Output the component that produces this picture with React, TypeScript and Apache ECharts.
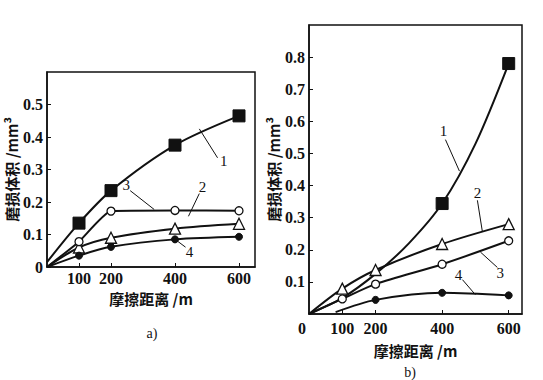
import React, { useEffect, useRef } from "react";
import * as echarts from "echarts";

// ---- Chart a) ----
const distA = [0, 100, 200, 400, 600];
const volA1 = [0.015, 0.135, 0.235, 0.375, 0.465];
const volA2 = [0, 0.06, 0.09, 0.118, 0.133];
const volA3 = [0, 0.078, 0.172, 0.174, 0.173];
const volA4 = [0, 0.035, 0.062, 0.085, 0.093];
const markA = [false, true, true, true, true];

// ---- Chart b) ----
const distB1 = [0, 100, 200, 300, 400, 500, 600];
const volB1 = [0, 0.05, 0.125, 0.22, 0.344, 0.53, 0.78];
const markB1 = [false, false, false, false, true, false, true];
const distB = [0, 100, 200, 400, 600];
const volB2 = [0, 0.079, 0.137, 0.218, 0.28];
const volB3 = [0, 0.047, 0.093, 0.155, 0.228];
const markB = [false, true, true, true, true];
const distB4 = [80, 200, 400, 600];
const volB4 = [0.006, 0.044, 0.066, 0.058];
const markB4 = [false, true, true, true];

const xLabelsA = [100, 200, 400, 600];
const xLabelsB = [0, 100, 200, 400, 600];
const yLabelsA = [0, 0.1, 0.2, 0.3, 0.4, 0.5];
const yLabelsB = [0.1, 0.2, 0.3, 0.4, 0.5, 0.6, 0.7, 0.8];

// curve numbers with leader lines (data coordinates)
const notesA = [
  { n: "1", at: [552, 0.327], from: [476, 0.425], to: [533, 0.336] },
  { n: "2", at: [486, 0.245], from: [476, 0.226], to: [442, 0.156] },
  { n: "3", at: [248, 0.251], from: [260, 0.235], to: [335, 0.177] },
  { n: "4", at: [445, 0.046], from: [433, 0.061], to: [395, 0.089] },
];
const notesB = [
  { n: "1", at: [404, 0.571], from: [410, 0.543], to: [452, 0.445] },
  { n: "2", at: [506, 0.376], from: [506, 0.354], to: [521, 0.256] },
  { n: "3", at: [575, 0.129], from: [566, 0.145], to: [515, 0.193] },
  { n: "4", at: [449, 0.123], from: [461, 0.107], to: [500, 0.06] },
];

const SERIF = "Liberation Serif";
const CJK = "Noto Sans CJK SC";

const build = (xs: number[], ys: number[], marks: boolean[]) =>
  xs.map((x, i) => (marks[i] ? { value: [x, ys[i]] } : { value: [x, ys[i]], symbol: "none" }));

const styles: Record<string, any> = {
  "1": { symbol: "rect", symbolSize: 12, itemStyle: { color: "#111", borderColor: "#111" } },
  "2": { symbol: "triangle", symbolSize: 11, itemStyle: { color: "#fff", borderColor: "#111", borderWidth: 1.3 } },
  "3": { symbol: "circle", symbolSize: 8, itemStyle: { color: "#fff", borderColor: "#111", borderWidth: 1.3 } },
  "4": { symbol: "circle", symbolSize: 7, itemStyle: { color: "#111", borderColor: "#111" } },
};

function makeSeries(id: string, idx: number, data: any[], note: any, smooth: number) {
  return {
    type: "line",
    xAxisIndex: idx,
    yAxisIndex: idx,
    data,
    smooth,
    lineStyle: { color: "#111", width: 2 },
    ...styles[id],
    z: 3,
    markLine: {
      silent: true,
      symbol: ["none", "none"],
      label: { show: false },
      lineStyle: { color: "#111", width: 1, type: "solid" },
      data: [[{ coord: note.from }, { coord: note.to }]],
    },
    markPoint: {
      silent: true,
      symbol: "circle",
      symbolSize: 1,
      itemStyle: { color: "rgba(0,0,0,0)" },
      label: {
        show: true,
        position: "inside",
        formatter: note.n,
        color: "#111",
        fontSize: 15,
        fontFamily: SERIF,
      },
      data: [{ coord: note.at }],
    },
  };
}

const serifRich = {
  s: { fontSize: 16, fontFamily: SERIF, fontWeight: "bold", color: "#111" },
  z: { fontSize: 16, fontFamily: SERIF, fontWeight: "bold", color: "#111", padding: [0, 14, 0, 0] },
};

export default function App() {
  const ref = useRef<HTMLDivElement>(null);
  useEffect(() => {
    if (!ref.current) return;
    const chart = echarts.init(ref.current, null, { renderer: "svg" });
    const axisLabelBase = { color: "#111", fontSize: 16, fontFamily: SERIF, fontWeight: "bold", rich: serifRich, formatter: (v: number) => `{s|${v}}` };
    const nameStyle = { color: "#111", fontSize: 15, fontFamily: CJK, fontWeight: "bold" as const };
    const lineBase = { show: true, lineStyle: { color: "#111", width: 1.5 } };
    chart.setOption({
      animation: false,
      backgroundColor: "#fff",
      textStyle: { fontFamily: SERIF },
      title: [
        { text: "a)", left: 147, top: 321, textAlign: "center", textStyle: { fontSize: 14, fontWeight: "normal", fontFamily: SERIF, color: "#111" } },
        { text: "b)", left: 405, top: 360, textAlign: "center", textStyle: { fontSize: 14, fontWeight: "normal", fontFamily: SERIF, color: "#111" } },
      ],
      grid: [
        { left: 47, top: 72, width: 208, height: 195, show: true, borderColor: "#111", borderWidth: 1.5, containLabel: false },
        { left: 309, top: 25, width: 213, height: 289, show: true, borderColor: "#111", borderWidth: 1.5, containLabel: false },
      ],
      xAxis: [
        {
          type: "value", gridIndex: 0, min: 0, max: 650,
          axisLine: lineBase,
          axisTick: { show: true, inside: true, length: 4, customValues: xLabelsA, lineStyle: { color: "#111" } },
          axisLabel: { ...axisLabelBase, margin: 3, customValues: xLabelsA },
          splitLine: { show: false },
          name: "摩擦距离 /m", nameLocation: "middle", nameGap: 23, nameTextStyle: nameStyle,
        },
        {
          type: "value", gridIndex: 1, min: 0, max: 640,
          axisLine: lineBase,
          axisTick: { show: true, inside: true, length: 4, customValues: [100, 200, 400, 600], lineStyle: { color: "#111" } },
          axisLabel: {
            ...axisLabelBase, margin: 6, customValues: xLabelsB,
            formatter: (v: number) => (v === 0 ? "{z|0}" : `{s|${v}}`),
          },
          splitLine: { show: false },
          name: "摩擦距离 /m", nameLocation: "middle", nameGap: 29, nameTextStyle: nameStyle,
        },
      ],
      yAxis: [
        {
          type: "value", gridIndex: 0, min: 0, max: 0.6, interval: 0.1,
          axisLine: lineBase,
          axisTick: { show: true, inside: true, length: 4, customValues: yLabelsA, lineStyle: { color: "#111" } },
          axisLabel: { ...axisLabelBase, margin: 4, customValues: yLabelsA },
          splitLine: { show: false },
          name: "磨损体积 /mm³", nameLocation: "middle", nameGap: 27, nameRotate: 90, nameTextStyle: nameStyle,
        },
        {
          type: "value", gridIndex: 1, min: 0, max: 0.9, interval: 0.1,
          axisLine: lineBase,
          axisTick: { show: true, inside: true, length: 4, customValues: yLabelsB, lineStyle: { color: "#111" } },
          axisLabel: { ...axisLabelBase, margin: 4, customValues: yLabelsB },
          splitLine: { show: false },
          name: "磨损体积 /mm³", nameLocation: "middle", nameGap: 27, nameRotate: 90, nameTextStyle: nameStyle,
        },
      ],
      series: [
        makeSeries("1", 0, build(distA, volA1, markA), notesA[0], 0.3),
        makeSeries("2", 0, build(distA, volA2, markA), notesA[1], 0.3),
        makeSeries("3", 0, build(distA, volA3, markA), notesA[2], 0.15),
        makeSeries("4", 0, build(distA, volA4, markA), notesA[3], 0.3),
        makeSeries("1", 1, build(distB1, volB1, markB1), notesB[0], 0.3),
        makeSeries("2", 1, build(distB, volB2, markB), notesB[1], 0.3),
        makeSeries("3", 1, build(distB, volB3, markB), notesB[2], 0.3),
        makeSeries("4", 1, build(distB4, volB4, markB4), notesB[3], 0.3),
      ],
    });
    return () => chart.dispose();
  }, []);
  return <div ref={ref} style={{ position: "absolute", left: 0, top: 0, width: 543, height: 380 }} />;
}
